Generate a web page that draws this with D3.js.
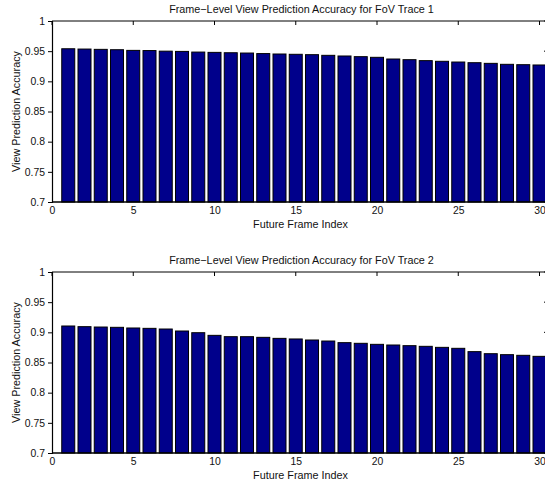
<!DOCTYPE html>
<html>
<head>
<meta charset="utf-8">
<script src="https://cdn.jsdelivr.net/npm/d3@7"></script>
<style>
  body { margin: 0; background: #fff; overflow: hidden; }
  svg { display: block; font-family: "Liberation Sans", Arial, sans-serif; }
  text { fill: #111; }
</style>
</head>
<body>
<div id="chart"></div>
<script>
/* DATA */
const frames = d3.range(1, 31);
const trace1 = [0.954, 0.9535, 0.953, 0.9524, 0.9513, 0.951, 0.950, 0.9496, 0.9485, 0.948,
  0.9474, 0.9469, 0.946, 0.9453, 0.9448, 0.9442, 0.9431, 0.942, 0.9409, 0.9398,
  0.937, 0.9359, 0.9343, 0.9332, 0.932, 0.9309, 0.9298, 0.9282, 0.9276, 0.9271];
const trace2 = [0.9105, 0.9094, 0.9088, 0.9083, 0.9072, 0.9066, 0.9055, 0.9022, 0.8994, 0.895,
  0.8928, 0.8928, 0.8917, 0.890, 0.889, 0.8873, 0.8856, 0.8829, 0.8818, 0.8801,
  0.879, 0.8779, 0.8768, 0.8751, 0.8735, 0.868, 0.8646, 0.863, 0.8619, 0.8602];
const xTicks = [0, 5, 10, 15, 20, 25, 30];
const yTicks = [0.7, 0.75, 0.8, 0.85, 0.9, 0.95, 1];
const titles = ["Frame\u2212Level View Prediction Accuracy for FoV Trace 1",
                "Frame\u2212Level View Prediction Accuracy for FoV Trace 2"];

/* LAYOUT */
const width = 545, height = 489;
const left = 52, right = 549;
const panels = [
  { top: 21, bottom: 202, values: trace1, title: titles[0] },
  { top: 272, bottom: 453, values: trace2, title: titles[1] }
];

const svg = d3.select("#chart").append("svg")
  .attr("width", width)
  .attr("height", height);

const x = d3.scaleLinear().domain([0, (right - left) / 16.25]).range([left, right]);

panels.forEach(p => {
  const y = d3.scaleLinear().domain([0.7, 1]).range([p.bottom, p.top]);
  const g = svg.append("g");

  // right y ticks (inward), drawn under bars
  g.selectAll(".rtick").data(yTicks).join("line")
    .attr("x1", right - 5).attr("x2", right)
    .attr("y1", d => y(d)).attr("y2", d => y(d))
    .attr("stroke", "#000").attr("stroke-width", 1);

  // top x ticks (inward)
  g.selectAll(".ttick").data(xTicks).join("line")
    .attr("x1", d => x(d)).attr("x2", d => x(d))
    .attr("y1", p.top).attr("y2", p.top + 4)
    .attr("stroke", "#000").attr("stroke-width", 1);

  // bars
  g.selectAll("rect.bar").data(p.values).join("rect")
    .attr("class", "bar")
    .attr("x", (d, i) => x(frames[i] - 0.4))
    .attr("width", x(0.8) - x(0))
    .attr("y", d => y(d))
    .attr("height", d => y(0.7) - y(d))
    .attr("fill", "#00008b")
    .attr("stroke", "#000")
    .attr("stroke-width", 1);

  // box lines
  g.append("line").attr("x1", left).attr("x2", right + 10)
    .attr("y1", p.top).attr("y2", p.top).attr("stroke", "#000");
  g.append("line").attr("x1", left).attr("x2", right + 10)
    .attr("y1", p.bottom).attr("y2", p.bottom).attr("stroke", "#000").attr("stroke-width", 1.5);
  g.append("line").attr("x1", right).attr("x2", right)
    .attr("y1", p.top).attr("y2", p.bottom).attr("stroke", "#000");

  // left axis
  const yAxis = d3.axisLeft(y).tickValues(yTicks)
    .tickFormat(d => d === 1 ? "1" : String(+d.toFixed(2)))
    .tickSize(4).tickPadding(3);
  const ya = g.append("g").attr("transform", `translate(${left},0)`).call(yAxis);
  ya.select(".domain").attr("stroke", "#000").attr("stroke-width", 1.2);
  ya.selectAll("text").attr("font-size", 10.4).attr("fill", "#111")
    .attr("font-family", "'Liberation Sans', Arial, sans-serif");

  // bottom axis labels
  const xAxis = d3.axisBottom(x).tickValues(xTicks).tickSize(0).tickPadding(5);
  const xa = g.append("g").attr("transform", `translate(0,${p.bottom})`).call(xAxis);
  xa.select(".domain").remove();
  xa.selectAll("text").attr("font-size", 10.4).attr("fill", "#111")
    .attr("font-family", "'Liberation Sans', Arial, sans-serif");

  // title
  g.append("text")
    .attr("x", (left + right) / 2 + 1)
    .attr("y", p.top - 8)
    .attr("text-anchor", "middle")
    .attr("font-size", 10.8)
    .text(p.title);

  // x label
  g.append("text")
    .attr("x", (left + right) / 2)
    .attr("y", p.bottom + 26)
    .attr("text-anchor", "middle")
    .attr("font-size", 10.8)
    .text("Future Frame Index");

  // y label
  g.append("text")
    .attr("transform", `translate(20,${(p.top + p.bottom) / 2}) rotate(-90)`)
    .attr("text-anchor", "middle")
    .attr("font-size", 10.8)
    .text("View Prediction Accuracy");
});
</script>
</body>
</html>
